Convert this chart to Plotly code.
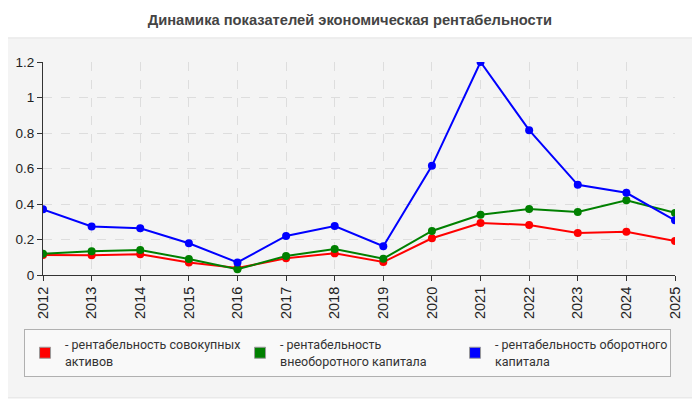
import plotly.graph_objects as go

# Данные
years = list(range(2012, 2026))
sovokupnye = [0.113, 0.111, 0.117, 0.071, 0.039, 0.094, 0.122, 0.073, 0.207, 0.293, 0.282, 0.237, 0.243, 0.192]
vneoborotny = [0.120, 0.134, 0.141, 0.090, 0.032, 0.107, 0.147, 0.092, 0.248, 0.339, 0.372, 0.355, 0.421, 0.350]
oborotny = [0.370, 0.273, 0.263, 0.179, 0.071, 0.220, 0.276, 0.162, 0.615, 1.200, 0.816, 0.508, 0.463, 0.308]

names = ["- рентабельность совокупных<br>активов",
         "- рентабельность<br>внеоборотного капитала",
         "- рентабельность оборотного<br>капитала"]
colors = ["#ff0000", "#008000", "#0000ff"]
series = [sovokupnye, vneoborotny, oborotny]

fig = go.Figure()

for vals, col in zip(series, colors):
    fig.add_trace(go.Scatter(x=years, y=vals, mode="lines+markers",
                             line=dict(color=col, width=2),
                             marker=dict(color=col, size=8),
                             showlegend=False, hoverinfo="x+y"))

# legend-only entries with square swatches
for nm, col in zip(names, colors):
    fig.add_trace(go.Scatter(x=[None], y=[None], mode="markers", name=nm,
                             marker=dict(color=col, size=11, symbol="square",
                                         line=dict(color="#999", width=1))))

# outer grey panel
fig.add_shape(type="rect", xref="paper", yref="paper",
              x0=-0.065, x1=1.035, y0=-0.577, y1=1.113,
              fillcolor="#f4f4f4", line=dict(color="#e2e2e2", width=1), layer="below")

# page body has 8px margin -> figure is 692x392 and shifted
fig.update_layout(
    width=692, height=392,
    margin=dict(l=35, r=25, t=54, b=125, autoexpand=False),
    paper_bgcolor="white",
    plot_bgcolor="#fbfbf4",
    title=dict(text="<b>Динамика показателей экономическая рентабельности</b>",
               x=0.494, xref="container", xanchor="center",
               y=0.969, yref="container", yanchor="middle",
               font=dict(family="Liberation Sans, Arial", size=14.7, color="#444")),
    font=dict(family="Liberation Sans, Arial", size=12, color="#222"),
    legend=dict(orientation="h", x=-0.030, y=-0.2535, xanchor="left", yanchor="top",
                bgcolor="#f9f9f9", bordercolor="#b0b0b0", borderwidth=1,
                entrywidth=170, itemwidth=30, tracegroupgap=0,
                font=dict(family="Roboto, Liberation Sans", size=12.5, color="#333")),
)

fig.update_xaxes(range=[2012, 2025], tickmode="array", tickvals=years,
                 ticktext=[str(y) for y in years], tickangle=-90,
                 showline=True, linecolor="#333", linewidth=1,
                 ticks="outside", ticklen=5, tickcolor="#333",
                 showgrid=True, gridcolor="#dddddd", griddash="dash",
                 tickfont=dict(size=14.5), zeroline=False)
fig.update_yaxes(range=[0, 1.2], dtick=0.2,
                 showline=True, linecolor="#333", linewidth=1,
                 ticks="outside", ticklen=5, tickcolor="#333",
                 showgrid=True, gridcolor="#dddddd", griddash="dash",
                 tickfont=dict(size=13.5), zeroline=False)

fig.write_html("out.html")
